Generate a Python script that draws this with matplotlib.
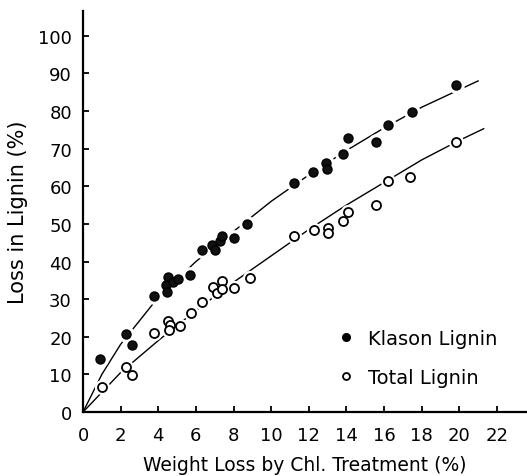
import numpy as np
import matplotlib.pyplot as plt
from matplotlib.lines import Line2D

# Klason lignin (filled circles)
klason_x = [0.9, 2.3, 2.6, 3.8, 4.5, 4.4, 4.45, 4.8, 5.05, 5.7, 6.3, 6.85, 7.0, 7.3, 7.4, 8.0, 8.7,
            11.2, 12.25, 12.9, 12.95, 13.8, 14.1, 15.6, 16.2, 17.5, 19.8]
klason_y = [14.1, 20.7, 17.8, 30.8, 35.8, 33.7, 31.8, 34.5, 35.3, 36.3, 43.0, 44.3, 43.2, 45.4, 46.7, 46.2, 50.1,
            61.0, 63.7, 66.3, 64.7, 68.7, 72.7, 71.9, 76.4, 79.8, 87.0]

# Total lignin (open circles)
total_x = [1.0, 2.3, 2.6, 3.8, 4.5, 4.6, 4.55, 5.15, 5.75, 6.3, 6.9, 7.1, 7.4, 7.4, 8.05, 8.9,
           11.2, 12.3, 13.0, 13.0, 13.8, 14.1, 15.6, 16.2, 17.4, 19.8]
total_y = [6.6, 11.9, 9.8, 21.0, 24.2, 23.1, 21.7, 23.0, 26.3, 29.2, 33.2, 31.6, 34.8, 32.6, 33.0, 35.5,
           46.7, 48.5, 48.8, 47.5, 50.7, 53.3, 54.9, 61.3, 62.6, 71.9]

# hand-drawn trend curves
klason_curve_x = [0, 1, 2, 4, 6, 8, 10, 12, 14, 16, 18, 21]
klason_curve_y = [0, 10, 18, 30.5, 40, 48, 56, 63, 69.5, 75.5, 81, 88]
total_curve_x = [0, 2, 4, 6, 8, 10, 12, 14, 16, 18, 20, 21.3]
total_curve_y = [0, 10.5, 19, 27, 34.5, 41.5, 48.5, 55, 61, 67, 72.2, 75.3]

xticks = list(range(0, 23, 2))
yticks = list(range(0, 101, 10))

plt.rcParams['font.family'] = 'DejaVu Sans'
fig = plt.figure(figsize=(5.27, 4.77), dpi=100)
ax = fig.add_axes([0.1575, 0.134, 0.8425, 0.841])

ax.plot(klason_curve_x, klason_curve_y, color='black', linewidth=1.0, zorder=1)
ax.plot(total_curve_x, total_curve_y, color='black', linewidth=1.0, zorder=1)

# white halo under markers makes the broken-line look
ax.plot(klason_x, klason_y, 'o', color='white', markersize=11, zorder=2)
ax.plot(total_x, total_y, 'o', color='white', markersize=10, zorder=2)

ax.plot(klason_x, klason_y, 'o', markerfacecolor='#111111', markeredgecolor='black',
        markersize=6.5, markeredgewidth=1.0, linestyle='none', zorder=3)
ax.plot(total_x, total_y, 'o', markerfacecolor='white', markeredgecolor='black',
        markersize=6.5, markeredgewidth=1.3, linestyle='none', zorder=3)

ax.set_xlim(0, 23.6)
ax.set_ylim(0, 106.6)
ax.set_xticks(xticks)
ax.set_yticks(yticks)
ax.tick_params(direction='in', length=4.5, width=1.3, labelsize=13)
ax.tick_params(axis='x', pad=10)
ax.tick_params(axis='y', pad=8)
for s in ['top', 'right']:
    ax.spines[s].set_visible(False)
for s in ['left', 'bottom']:
    ax.spines[s].set_linewidth(1.6)

ax.set_xlabel("Weight Loss by Chl. Treatment (%)", fontsize=13.5, labelpad=8)
ax.set_ylabel("Loss in Lignin (%)", fontsize=15, labelpad=7)

handles = [
    Line2D([], [], marker='o', linestyle='none', markerfacecolor='black', markeredgecolor='black', markersize=5.5),
    Line2D([], [], marker='o', linestyle='none', markerfacecolor='white', markeredgecolor='black',
           markersize=5, markeredgewidth=1.3),
]
ax.legend(handles, ["Klason Lignin", "Total Lignin"], loc='lower left', bbox_to_anchor=(0.574, 0.062),
          frameon=False, fontsize=14, handlelength=0.8, handletextpad=0.75, labelspacing=1.05,
          borderpad=0, borderaxespad=0)

fig.savefig("out.png", dpi=100)
